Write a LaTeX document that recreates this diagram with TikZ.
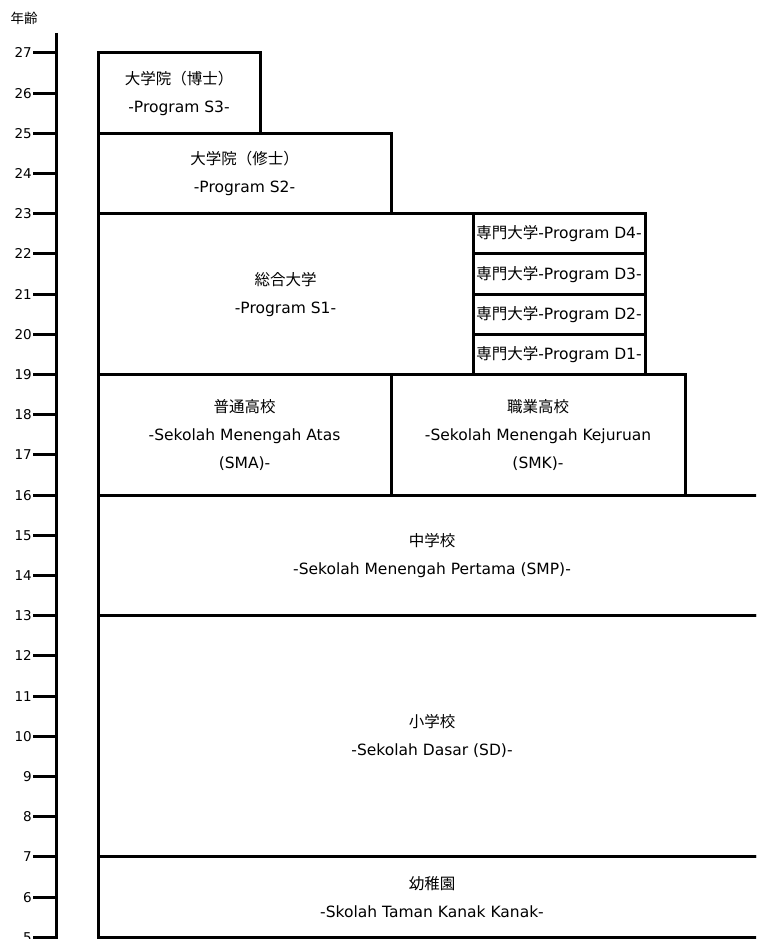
\documentclass[tikz,border=0pt]{standalone}
\usepackage{fontspec}
\setmainfont{DejaVu Sans}
\newfontfamily\jp{Noto Sans CJK JP}

\begin{document}
\begin{tikzpicture}[x=1pt, y=40.2pt,
    stage/.style={line width=3pt},
    stagetext/.style={align=center, font=\fontsize{15.5}{28}\selectfont},
    agetick/.style={line width=3pt},
    agetext/.style={anchor=east, inner sep=1pt, font=\fontsize{13.5}{16}\selectfont}]
    \clip (0,4.96) rectangle (756,28.318);
    % age axis
    \node[agetext, anchor=center] (agehead) at (24,27.87) {\jp 年齢};
    \draw[line width=3pt] (56.5,27.5) -- (56.5,4.9);
    \foreach \a in {5,...,27} {
        \node[agetext] (age\a) at (33,\a) {\a};
        \draw[agetick] (age\a.east) -- (56.5,\a);
    }
    % schools
    \draw[stage] (98,25) rectangle (260,27);
    \draw[stage] (98,23) rectangle (391,25);
    \draw[stage] (98,19) rectangle (473,23);
    \foreach \d in {1,...,4}
        \draw[stage] (473,18+\d) rectangle (645,19+\d);
    \draw[stage] (98,16) rectangle (391,19);
    \draw[stage] (391,16) rectangle (685,19);
    \draw[stage] (98,13) rectangle (766,16);
    \draw[stage] (98,7) rectangle (766,13);
    \draw[stage] (98,5) rectangle (766,7);
    \node[stagetext] (s3) at (179,26) {{\jp 大学院（博士）}\\-Program S3-};
    \node[stagetext] (s2) at (244.5,24) {{\jp 大学院（修士）}\\-Program S2-};
    \node[stagetext] (s1) at (285.5,21) {{\jp 総合大学}\\-Program S1-};
    \foreach \d in {1,...,4}
        \node[stagetext] (d\d) at (559,18.5+\d) {{\jp 専門大学}-Program D\d-};
    \node[stagetext] (sma) at (244.5,17.5) {{\jp 普通高校}\\-Sekolah Menengah Atas\\(SMA)-};
    \node[stagetext] (smk) at (538,17.5) {{\jp 職業高校}\\-Sekolah Menengah Kejuruan\\(SMK)-};
    \node[stagetext] (smp) at (432,14.5) {{\jp 中学校}\\-Sekolah Menengah Pertama (SMP)-};
    \node[stagetext] (sd) at (432,10) {{\jp 小学校}\\-Sekolah Dasar (SD)-};
    \node[stagetext] (tk) at (432,6) {{\jp 幼稚園}\\-Skolah Taman Kanak Kanak-};
\end{tikzpicture}
\end{document}
